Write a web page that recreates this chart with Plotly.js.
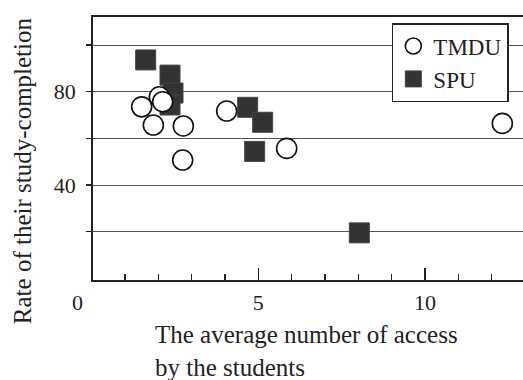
<!DOCTYPE html>
<html>
<head>
<meta charset="utf-8">
<script src="https://cdn.plot.ly/plotly-3.0.1.min.js"></script>
<style>html,body{margin:0;padding:0;background:#fff;}#chart{width:523px;height:380px;}</style>
</head>
<body>
<div id="chart"></div>
<script>
var seriesNames = ["TMDU", "SPU"];
var tmduX = [1.5, 2.03, 2.13, 1.85, 2.75, 2.73, 4.05, 5.85, 12.32];
var tmduY = [73.5, 77.8, 75.7, 65.7, 65.3, 50.7, 71.7, 55.7, 66.4];
var spuX = [1.62, 2.35, 2.44, 2.35, 4.68, 5.13, 4.89, 8.03];
var spuY = [93.6, 87.1, 79.4, 74.3, 73.3, 66.9, 54.4, 19.5];
var xTickVals = [5, 10];
var xTickText = ["5", "10"];
var yTickVals = [20, 40, 60, 80, 100];
var yTickText = ["", "40", "", "80", ""];
var xTitle = "The average number of access<br>by the students";
var yTitle = "Rate of their study-completion";
var originLabel = "0";

var FONT = "Liberation Serif, Times New Roman, serif";
var INK = "#222";

var traces = [
  {
    x: spuX, y: spuY, name: seriesNames[1], type: "scatter", mode: "markers",
    legendrank: 2,
    marker: {symbol: "square", size: 20, color: "#333", line: {color: "#444", width: 1}}
  },
  {
    x: tmduX, y: tmduY, name: seriesNames[0], type: "scatter", mode: "markers",
    legendrank: 1,
    marker: {symbol: "circle", size: 20, color: "#fff", line: {color: "#111", width: 1.6}}
  }
];

var layout = {
  width: 523, height: 380,
  margin: {l: 93, r: 0, t: 17, b: 100, pad: 0},
  paper_bgcolor: "#fff", plot_bgcolor: "#fff",
  font: {family: FONT, color: INK, size: 22},
  showlegend: true,
  legend: {
    x: 0.695, y: 0.977, xanchor: "left", yanchor: "top",
    bgcolor: "#fff", bordercolor: "#222", borderwidth: 1.5,
    font: {family: FONT, size: 23, color: INK},
    tracegroupgap: 0
  },
  xaxis: {
    range: [0.04, 12.94],
    tickmode: "array", tickvals: xTickVals, ticktext: xTickText,
    ticks: "inside", ticklen: 12, tickwidth: 1.5, tickcolor: "#222",
    minor: {dtick: 1, tick0: 0, ticks: "inside", ticklen: 6, tickwidth: 1.2, tickcolor: "#222", showgrid: false},
    showgrid: false, zeroline: false,
    showline: true, linecolor: "#222", linewidth: 2, mirror: true,
    tickfont: {family: FONT, size: 22, color: INK},
    ticklabelstandoff: 2
  },
  yaxis: {
    range: [-0.7, 112],
    tickmode: "array", tickvals: yTickVals, ticktext: yTickText,
    ticks: "outside", ticklen: 5, tickwidth: 1.2, tickcolor: "#222",
    showgrid: true, gridcolor: "#555", gridwidth: 1,
    zeroline: false,
    showline: true, linecolor: "#222", linewidth: 1.8, mirror: true,
    tickfont: {family: FONT, size: 22, color: INK},
    ticklabelstandoff: 6
  },
  annotations: [
    {text: xTitle, xref: "paper", yref: "paper", x: 0.1395, y: -0.15,
     xanchor: "left", yanchor: "top", align: "left", showarrow: false,
     font: {family: FONT, size: 25, color: INK}},
    {text: yTitle, xref: "paper", yref: "paper", x: -0.165, y: 0.414,
     xanchor: "center", yanchor: "middle", textangle: -90, showarrow: false,
     font: {family: FONT, size: 25, color: INK}},
    {text: originLabel, xref: "paper", yref: "paper", x: -0.035, y: -0.084,
     xanchor: "center", yanchor: "middle", showarrow: false,
     font: {family: FONT, size: 22, color: INK}}
  ]
};

Plotly.newPlot("chart", traces, layout, {displayModeBar: false, staticPlot: true});
</script>
</body>
</html>
